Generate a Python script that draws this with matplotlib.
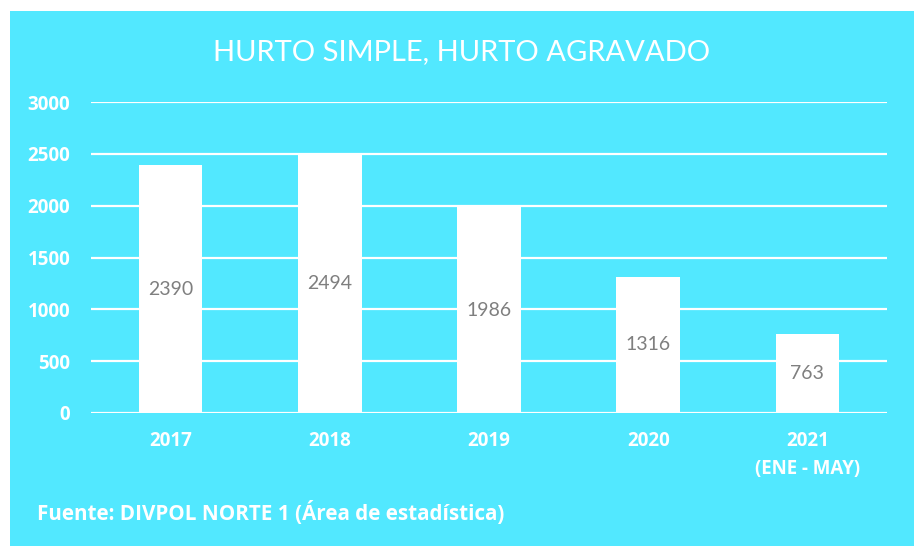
import matplotlib.pyplot as plt
from matplotlib.patches import Rectangle

years = ['2017', '2018', '2019', '2020', '2021\n(ENE - MAY)']
cases = [2390, 2494, 1986, 1316, 763]
yticks = [0, 500, 1000, 1500, 2000, 2500, 3000]

bg = '#52E8FF'
plt.rcParams['font.family'] = ['Lato', 'DejaVu Sans']
bold_font = ['Open Sans', 'DejaVu Sans']

fig = plt.figure(figsize=(9.14, 5.46), dpi=100)
fig.patch.set_facecolor('white')
fig.patches.append(Rectangle((10 / 914, 0), 1, 535 / 546, transform=fig.transFigure,
                             facecolor=bg, edgecolor='none', zorder=-10))

ax = fig.add_axes([91 / 914, 133 / 546, 796 / 914, 311 / 546])
ax.set_facecolor('none')

x = range(len(years))
bars = ax.bar(x, cases, width=0.4, color='white', zorder=2)
for i, v in enumerate(cases):
    ax.text(i, v / 2, str(v), ha='center', va='center', fontsize=14, color='#7f7f7f', zorder=3)

ax.set_xlim(-0.5, len(years) - 0.5)
ax.set_ylim(0, 3000)
ax.set_yticks(yticks)
for t in yticks:
    ax.axhline(t, color='white', lw=1.6, zorder=1)

ax.set_xticks(list(x))
ax.set_xticklabels(years, fontsize=13.5, fontweight='bold', color='white', linespacing=1.55,
                   family=bold_font)
ax.set_yticklabels([str(t) for t in yticks], fontsize=13.5, fontweight='bold', color='white',
                   family=bold_font)
ax.tick_params(length=0)
ax.tick_params(axis='x', pad=13)
ax.tick_params(axis='y', pad=15)
for s in ax.spines.values():
    s.set_visible(False)

fig.text(462 / 914, 1 - 52 / 546, 'HURTO SIMPLE, HURTO AGRAVADO', ha='center', va='center',
         fontsize=21, color='white')
fig.text(37 / 914, 1 - 513 / 546, 'Fuente: DIVPOL NORTE 1 (Área de estadística)', ha='left',
         va='center', fontsize=14.9, fontweight='bold', color='white', family=bold_font)

fig.savefig('out.png', dpi=100, facecolor=fig.get_facecolor())
